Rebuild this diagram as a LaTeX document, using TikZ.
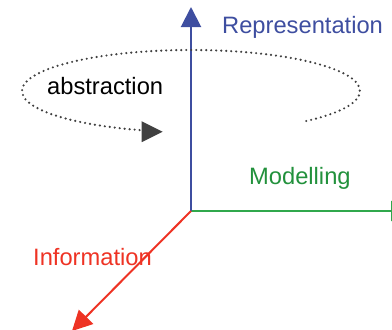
\documentclass[tikz,border=0pt]{standalone}
\usepackage{fontspec}
\setmainfont{Liberation Sans}
\usetikzlibrary{arrows.meta,calc}
\definecolor{axblue}{RGB}{62,78,160}
\definecolor{axgreen}{RGB}{48,168,76}
\definecolor{txtgreen}{RGB}{34,145,60}
\definecolor{axred}{RGB}{238,51,36}
\definecolor{absgray}{RGB}{64,64,64}
\tikzset{
  axis/.style={line width=2pt,-{Triangle[length=20pt,width=20pt]}},
  lbl/.style={inner sep=0pt,anchor=base west,font=\fontsize{23.7}{28}\selectfont},
}
\begin{document}
\begin{tikzpicture}[x=1pt,y=1pt]
\useasboundingbox (0,0) rectangle (392,-330);
\coordinate (O) at (191,-211);
\coordinate (R) at (191,-7);
\coordinate (M) at (411,-211);
\coordinate (I) at (72,-331);
\draw[axis,axgreen] (O) -- (M);
\draw[axis,axblue] (O) -- (R);
\draw[axis,axred] (O) -- (I);
\node[lbl,text=axblue] (rep) at (222,-33) {Representation};
\node[lbl,text=txtgreen] (mod) at (249,-184) {Modelling};
\node[lbl,text=axred] (inf) at (33,-265) {Information};
\node[lbl,text=black] (abs) at (47,-94) {abstraction};
\coordinate (C) at (191,-91);
\coordinate (S) at ($(C)+(-47:169 and 41)$);
\draw[absgray,line width=2.4pt,line cap=round,dash pattern=on 0pt off 5pt]
  (S) arc[start angle=-47,end angle=253,x radius=169,y radius=41] coordinate (E);
\fill[absgray] ($(E)+(0,-1.5)$) -- ++(0,10.5) -- ++(21,-10.5) -- ++(-21,-10.5) -- cycle;
\end{tikzpicture}
\end{document}
